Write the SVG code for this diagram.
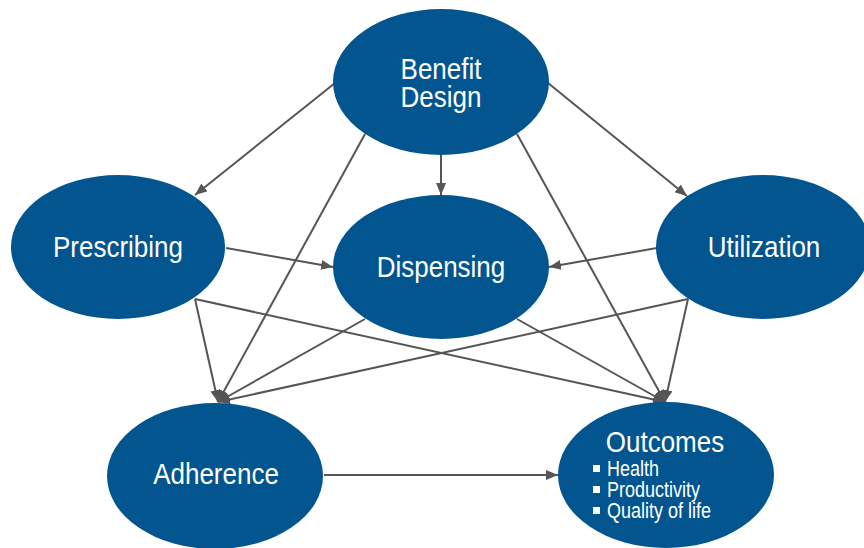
<svg xmlns="http://www.w3.org/2000/svg" width="864" height="548" viewBox="0 0 864 548">
<style>
.node{fill:#02558F}
.lbl{font-family:"Liberation Sans",Arial,sans-serif;font-size:26px;fill:#fff;text-anchor:middle}
.sub{font-family:"Liberation Sans",Arial,sans-serif;font-size:18px;fill:#fff}
.edge{stroke:#555;stroke-width:2;fill:none;marker-end:url(#ah)}
.bul{fill:#fff}
</style>
<defs>
<marker id="ah" markerUnits="userSpaceOnUse" markerWidth="13" markerHeight="11" refX="12" refY="5" orient="auto">
<path d="M0,0 L12,5 L0,10 z" fill="#555"/>
</marker>
</defs>
<rect width="864" height="548" fill="#fff"/>
<g id="connectors">
<line class="edge" x1="335" y1="83" x2="195" y2="195"/>
<line class="edge" x1="441" y1="155" x2="441" y2="195"/>
<line class="edge" x1="548" y1="83" x2="687" y2="196"/>
<line class="edge" x1="365" y1="134" x2="218" y2="402"/>
<line class="edge" x1="517" y1="134" x2="665" y2="402"/>
<line class="edge" x1="226" y1="248" x2="333" y2="267"/>
<line class="edge" x1="657" y1="248" x2="549" y2="267"/>
<line class="edge" x1="195" y1="299" x2="218" y2="402"/>
<line class="edge" x1="195" y1="299" x2="665" y2="402"/>
<line class="edge" x1="365" y1="319" x2="218" y2="402"/>
<line class="edge" x1="517" y1="319" x2="665" y2="402"/>
<line class="edge" x1="688" y1="299" x2="218" y2="402"/>
<line class="edge" x1="688" y1="299" x2="665" y2="402"/>
<line class="edge" x1="324" y1="475" x2="558" y2="475"/>
</g>
<g id="benefit-design">
<ellipse class="node" cx="441" cy="82" rx="108" ry="73"/>
<text class="lbl" transform="translate(441,79) scale(1,1.15)">Benefit</text>
<text class="lbl" transform="translate(441,107) scale(1,1.15)">Design</text>
</g>
<g id="prescribing">
<ellipse class="node" cx="118" cy="247" rx="107" ry="72"/>
<text class="lbl" transform="translate(118,257) scale(1,1.15)">Prescribing</text>
</g>
<g id="dispensing">
<ellipse class="node" cx="441" cy="267" rx="108" ry="72"/>
<text class="lbl" transform="translate(441,277) scale(1,1.15)">Dispensing</text>
</g>
<g id="utilization">
<ellipse class="node" cx="763" cy="247" rx="107" ry="72"/>
<text class="lbl" transform="translate(764,257) scale(1,1.15)">Utilization</text>
</g>
<g id="adherence">
<ellipse class="node" cx="215" cy="476" rx="108" ry="73"/>
<text class="lbl" transform="translate(216,484) scale(1,1.15)">Adherence</text>
</g>
<g id="outcomes">
<ellipse class="node" cx="666" cy="475" rx="108" ry="73"/>
<text class="lbl" transform="translate(665,452) scale(1,1.15)">Outcomes</text>
<rect class="bul" x="593" y="465" width="7" height="7"/>
<text class="sub" transform="translate(607,476) scale(1,1.2)">Health</text>
<rect class="bul" x="593" y="486" width="7" height="7"/>
<text class="sub" transform="translate(607,497) scale(1,1.2)">Productivity</text>
<rect class="bul" x="593" y="507" width="7" height="7"/>
<text class="sub" transform="translate(607,518) scale(1,1.2)">Quality of life</text>
</g>
</svg>
